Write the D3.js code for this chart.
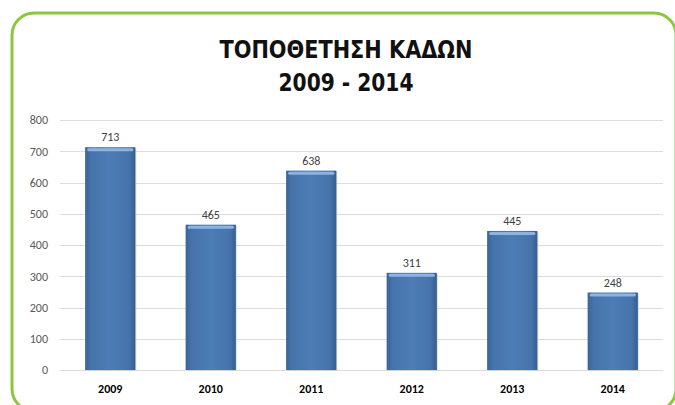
<!DOCTYPE html>
<html lang="el">
<head>
<meta charset="UTF-8">
<title>ΤΟΠΟΘΕΤΗΣΗ ΚΑΔΩΝ</title>
<script src="https://d3js.org/d3.v7.min.js"></script>
<style>
  body { margin: 0; background: #fff; }
</style>
</head>
<body>
<script>
  // data
  var years = ["2009", "2010", "2011", "2012", "2013", "2014"];
  var bins = [713, 465, 638, 311, 445, 248];
  var yTicks = [0, 100, 200, 300, 400, 500, 600, 700, 800];
  var titleLines = ["ΤΟΠΟΘΕΤΗΣΗ ΚΑΔΩΝ", "2009 - 2014"];

  var w = 675, h = 405;
  var plotLeft = 60, plotRight = 663, plotTop = 120, plotBottom = 370;

  var svg = d3.select("body").append("svg")
    .attr("width", w)
    .attr("height", h);

  var defs = svg.append("defs");
  var grad = defs.append("linearGradient")
    .attr("id", "barGrad")
    .attr("x1", "0").attr("x2", "1").attr("y1", "0").attr("y2", "0");
  grad.append("stop").attr("offset", "0").attr("stop-color", "#3a6498");
  grad.append("stop").attr("offset", "0.12").attr("stop-color", "#4673aa");
  grad.append("stop").attr("offset", "0.5").attr("stop-color", "#4d7db6");
  grad.append("stop").attr("offset", "0.88").attr("stop-color", "#4673aa");
  grad.append("stop").attr("offset", "1").attr("stop-color", "#365e90");

  // green frame
  svg.append("rect")
    .attr("x", 12).attr("y", 13)
    .attr("width", 664).attr("height", 398)
    .attr("rx", 22).attr("ry", 22)
    .attr("fill", "#fff")
    .attr("stroke", "#8cc63f")
    .attr("stroke-width", 3);

  // title
  svg.selectAll(".title")
    .data(titleLines)
    .enter()
    .append("text")
    .attr("class", "title")
    .attr("x", 346)
    .attr("y", function (d, i) { return 58 + i * 33; })
    .attr("text-anchor", "middle")
    .attr("font-family", "'DejaVu Sans Condensed', sans-serif")
    .attr("font-weight", "bold")
    .attr("font-size", "24px")
    .attr("fill", "#111")
    .attr("textLength", function (d, i) { return i == 0 ? 253 : 135; })
    .attr("lengthAdjust", "spacingAndGlyphs")
    .text(function (d) { return d; });

  var x = d3.scaleBand()
    .domain(years)
    .range([plotLeft, plotRight])
    .paddingInner(0.5)
    .paddingOuter(0.25);

  var y = d3.scaleLinear()
    .domain([0, 800])
    .range([plotBottom, plotTop]);

  // gridlines
  svg.append("g")
    .selectAll("line")
    .data(yTicks)
    .enter()
    .append("line")
    .attr("x1", plotLeft).attr("x2", plotRight)
    .attr("y1", function (d) { return Math.round(y(d)) + 0.5; })
    .attr("y2", function (d) { return Math.round(y(d)) + 0.5; })
    .attr("stroke", "#dcdcdc")
    .attr("stroke-width", 1);

  // y axis
  var yAxis = svg.append("g")
    .attr("transform", "translate(" + (plotLeft - 12) + ",0)")
    .call(d3.axisLeft(y).tickValues(yTicks).tickSize(0).tickPadding(0));
  yAxis.select(".domain").remove();
  yAxis.selectAll("text")
    .attr("font-family", "Carlito, 'Liberation Sans', sans-serif")
    .attr("font-size", "12px")
    .attr("fill", "#595959");

  // x axis
  var xAxis = svg.append("g")
    .attr("transform", "translate(0," + plotBottom + ")")
    .call(d3.axisBottom(x).tickSize(0).tickPadding(14));
  xAxis.select(".domain").remove();
  xAxis.selectAll("text")
    .attr("font-family", "Carlito, 'Liberation Sans', sans-serif")
    .attr("font-weight", "bold")
    .attr("font-size", "12px")
    .attr("fill", "#000");

  var bars = svg.append("g")
    .selectAll("g")
    .data(bins)
    .enter()
    .append("g");

  // shadow
  bars.append("rect")
    .attr("x", function (d, i) { return x(years[i]) + 1; })
    .attr("y", function (d) { return y(d) + 1; })
    .attr("width", x.bandwidth())
    .attr("height", function (d) { return plotBottom - y(d); })
    .attr("fill", "#c8c8c8")
    .attr("opacity", 0.6);

  bars.append("rect")
    .attr("x", function (d, i) { return x(years[i]); })
    .attr("y", function (d) { return y(d); })
    .attr("width", x.bandwidth())
    .attr("height", function (d) { return plotBottom - y(d); })
    .attr("fill", "url(#barGrad)");

  // top highlight
  bars.append("rect")
    .attr("x", function (d, i) { return x(years[i]) + 2; })
    .attr("y", function (d) { return y(d) + 1; })
    .attr("width", x.bandwidth() - 4)
    .attr("height", 3)
    .attr("rx", 1.5)
    .attr("fill", "#8db3e2");

  // value labels
  bars.append("text")
    .attr("x", function (d, i) { return x(years[i]) + x.bandwidth() / 2; })
    .attr("y", function (d) { return y(d) - 6; })
    .attr("text-anchor", "middle")
    .attr("font-family", "Carlito, 'Liberation Sans', sans-serif")
    .attr("font-size", "12px")
    .attr("fill", "#404040")
    .text(function (d) { return d; });
</script>
</body>
</html>
